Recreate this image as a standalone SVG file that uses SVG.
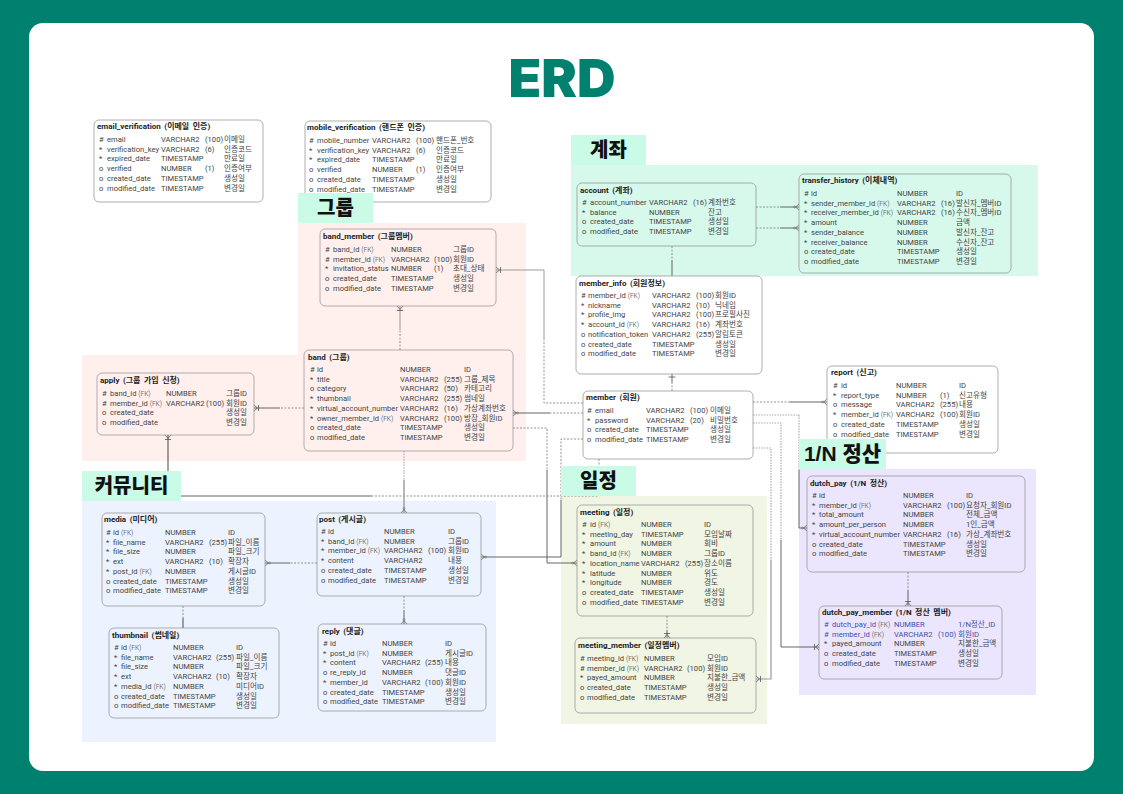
<svg xmlns="http://www.w3.org/2000/svg" width="1123" height="794" viewBox="0 0 1123 794">
<style>
text{font-family:Roboto,"Liberation Sans","Noto Sans CJK KR",sans-serif;font-size:7.6px;fill:#444}
.t{font-size:8px;font-weight:700;fill:#1c1c1c;word-spacing:1.500px}
.f{font-size:6.6px;fill:#777}
.b{fill:#3d4fb0}
.n{fill:none;stroke:#999;stroke-width:.8}
.w{fill:#fff;stroke:#999;stroke-width:.8}
.h{font-family:"Liberation Sans","Noto Sans CJK KR",sans-serif;font-size:20px;font-weight:900;fill:#111;text-anchor:middle}
.l{fill:#c9fbe7}
.s,.d,.g,.gd{fill:none}
.s{stroke:#555;stroke-width:.9}
.d{stroke:#777;stroke-width:.8;stroke-dasharray:2 1.5}
.g{stroke:#9a9a9a;stroke-width:1.4}
.gd{stroke:#aaa;stroke-width:1.2;stroke-dasharray:1.5 1.2}
</style>
<defs>
<marker id="foot" markerUnits="userSpaceOnUse" markerWidth="9" markerHeight="9" viewBox="0 0 9 9" refX="8" refY="4.5" orient="auto"><path d="M4.500 4.500L8 1.500M4.500 4.500L8 7.500" fill="none" stroke="#666" stroke-width=".8"/><circle cx="3.500" cy="4.500" r="1" fill="none" stroke="#666" stroke-width=".5"/></marker>
<marker id="many" markerUnits="userSpaceOnUse" markerWidth="9" markerHeight="9" viewBox="0 0 9 9" refX="8" refY="4.500" orient="auto"><path d="M4.500 4.500L8 1.500M4.500 4.500L8 7.500M3.500 1.500V7.500" fill="none" stroke="#555" stroke-width=".8"/></marker>
<marker id="one" markerUnits="userSpaceOnUse" markerWidth="9" markerHeight="9" viewBox="0 0 9 9" refX="8" refY="4.500" orient="auto"><path d="M5 1V8" fill="none" stroke="#555" stroke-width=".8"/></marker>
</defs>
<rect width="1123" height="794" fill="#00806f"/>
<rect x="29" y="23" width="1065" height="748" rx="14" fill="#fff"/>
<text x="562" y="97" textLength="107" lengthAdjust="spacingAndGlyphs" text-anchor="middle" style="font-family:Inter,'Liberation Sans',sans-serif;font-size:52px;font-weight:900;fill:#00806f">ERD</text>

<g id="regions">
<path d="M298 223H526V461H82V355H298Z" fill="#fff0ee"/>
<rect x="82" y="501" width="414" height="241" fill="#edf3fe"/>
<rect x="571" y="165" width="467" height="111" fill="#d7f9ec"/>
<rect x="561" y="496" width="206" height="228" fill="#f0f5e4"/>
<rect x="799" y="469" width="237" height="226" fill="#ebe6fd"/>
</g>

<g id="connectors">
<path class="d" d="M756 207H780"/><path class="s" d="M780 207H799" marker-end="url(#foot)"/>
<path class="d" d="M756 228H780"/><path class="s" d="M780 228H799" marker-end="url(#foot)"/>
<path class="d" d="M672 246V260"/><path class="s" d="M672 260V276"/>
<path class="s" d="M672 382V374" marker-end="url(#one)"/><path class="d" d="M672 382V391"/>
<path class="d" d="M583 403H544V340"/><path class="g" d="M544 340V270H496" marker-end="url(#many)" style="stroke-width:1"/>
<path class="d" d="M583 413H550"/><path class="s" d="M550 413H513" marker-end="url(#foot)"/>
<path class="d" d="M513 428H547V470"/><path class="s" d="M547 470V563H577" marker-end="url(#foot)"/>
<path class="d" d="M583 439H561V500"/><path class="s" d="M561 500V557H481" marker-end="url(#foot)"/>
<path class="d" d="M599 459V496H372"/><path class="g" d="M372 496H168"/><path class="s" d="M168 471V435" marker-end="url(#many)" style="stroke-width:1.100"/><path class="s" d="M168 496V471"/>
<path class="gd" d="M404 451V480"/><path class="g" d="M404 480V513" marker-end="url(#foot)"/>
<path class="d" d="M400 350V330"/><path class="g" d="M400 330V306" marker-end="url(#many)" style="stroke-width:1"/>
<path class="d" d="M304 408H280"/><path class="s" d="M280 408H254" marker-end="url(#many)"/>
<path class="d" d="M317 563H290"/><path class="s" d="M290 563H265" marker-end="url(#foot)"/>
<path class="d" d="M183 606V618"/><path class="s" d="M183 618V628" style="stroke-width:1.100"/>
<path class="d" d="M404 596V610"/><path class="s" d="M404 610V624" marker-end="url(#foot)"/>
<path class="d" d="M667 616V630"/><path class="s" d="M667 630V638" marker-end="url(#many)"/>
<path class="d" d="M753 402H790"/><path class="s" d="M790 402H827" marker-end="url(#foot)"/>
<path class="gd" d="M753 415H799V470"/><path class="s" d="M799 470V528H807" marker-end="url(#foot)"/>
<path class="gd" d="M753 423H781V540"/><path class="s" d="M781 540V647H819" marker-end="url(#many)"/>
<path class="gd" d="M753 448H771V560"/><path class="g" d="M771 560V679H756" marker-end="url(#many)" style="stroke-width:1.200"/>
<path class="d" d="M908 572V590"/><path class="s" d="M908 590V606" marker-end="url(#many)"/>
</g>

<g id="email_verification"><rect class="w" x="94" y="120" width="169" height="82" rx="5"/>
<text class="t" x="97" y="129">email_verification (이메일 인증)</text>
<text y="142"><tspan x="99">#</tspan><tspan x="107">email</tspan><tspan x="161">VARCHAR2</tspan><tspan x="205">(100)</tspan><tspan x="224">이메일</tspan></text>
<text y="151.700"><tspan x="99">*</tspan><tspan x="107">verification_key</tspan><tspan x="161">VARCHAR2</tspan><tspan x="205">(6)</tspan><tspan x="224">인증코드</tspan></text>
<text y="161.400"><tspan x="99">*</tspan><tspan x="107">expired_date</tspan><tspan x="161">TIMESTAMP</tspan><tspan x="224">만료일</tspan></text>
<text y="171.100"><tspan x="99">o</tspan><tspan x="107">verified</tspan><tspan x="161">NUMBER</tspan><tspan x="205">(1)</tspan><tspan x="224">인증여부</tspan></text>
<text y="180.800"><tspan x="99">o</tspan><tspan x="107">created_date</tspan><tspan x="161">TIMESTAMP</tspan><tspan x="224">생성일</tspan></text>
<text y="190.500"><tspan x="99">o</tspan><tspan x="107">modified_date</tspan><tspan x="161">TIMESTAMP</tspan><tspan x="224">변경일</tspan></text></g>

<g id="mobile_verification"><rect class="w" x="305" y="121" width="186" height="81" rx="5"/>
<text class="t" x="307" y="130">mobile_verification (핸드폰 인증)</text>
<text y="143"><tspan x="309">#</tspan><tspan x="317">mobile_number</tspan><tspan x="372">VARCHAR2</tspan><tspan x="416">(100)</tspan><tspan x="436">핸드폰_번호</tspan></text>
<text y="152.700"><tspan x="309">*</tspan><tspan x="317">verification_key</tspan><tspan x="372">VARCHAR2</tspan><tspan x="416">(6)</tspan><tspan x="436">인증코드</tspan></text>
<text y="162.400"><tspan x="309">*</tspan><tspan x="317">expired_date</tspan><tspan x="372">TIMESTAMP</tspan><tspan x="436">만료일</tspan></text>
<text y="172.100"><tspan x="309">o</tspan><tspan x="317">verified</tspan><tspan x="372">NUMBER</tspan><tspan x="416">(1)</tspan><tspan x="436">인증여부</tspan></text>
<text y="181.800"><tspan x="309">o</tspan><tspan x="317">created_date</tspan><tspan x="372">TIMESTAMP</tspan><tspan x="436">생성일</tspan></text>
<text y="191.500"><tspan x="309">o</tspan><tspan x="317">modified_date</tspan><tspan x="372">TIMESTAMP</tspan><tspan x="436">변경일</tspan></text></g>

<g id="band_member"><rect class="n" x="320" y="229" width="176" height="77" rx="5"/>
<text class="t" x="323" y="239">band_member (그룹멤버)</text>
<text y="252"><tspan x="325">#</tspan><tspan x="333">band_id <tspan class="f">(FK)</tspan></tspan><tspan x="391">NUMBER</tspan><tspan x="453">그룹ID</tspan></text>
<text y="261.700"><tspan x="325">#</tspan><tspan x="333">member_id <tspan class="f">(FK)</tspan></tspan><tspan x="391">VARCHAR2</tspan><tspan x="434">(100)</tspan><tspan x="453">회원ID</tspan></text>
<text y="271.400"><tspan x="325">*</tspan><tspan x="333">invitation_status</tspan><tspan x="391">NUMBER</tspan><tspan x="434">(1)</tspan><tspan x="453">초대_상태</tspan></text>
<text y="281.100"><tspan x="325">o</tspan><tspan x="333">created_date</tspan><tspan x="391">TIMESTAMP</tspan><tspan x="453">생성일</tspan></text>
<text y="290.800"><tspan x="325">o</tspan><tspan x="333">modified_date</tspan><tspan x="391">TIMESTAMP</tspan><tspan x="453">변경일</tspan></text></g>

<g id="band"><rect class="n" x="304" y="350" width="209" height="101" rx="5"/>
<text class="t" x="308" y="360">band (그룹)</text>
<text y="372"><tspan x="310">#</tspan><tspan x="317">id</tspan><tspan x="400">NUMBER</tspan><tspan x="464">ID</tspan></text>
<text y="381.700"><tspan x="310">*</tspan><tspan x="317">title</tspan><tspan x="400">VARCHAR2</tspan><tspan x="444">(255)</tspan><tspan x="464">그룹_제목</tspan></text>
<text y="391.400"><tspan x="310">o</tspan><tspan x="317">category</tspan><tspan x="400">VARCHAR2</tspan><tspan x="444">(50)</tspan><tspan x="464">카테고리</tspan></text>
<text y="401.100"><tspan x="310">*</tspan><tspan x="317">thumbnail</tspan><tspan x="400">VARCHAR2</tspan><tspan x="444">(255)</tspan><tspan x="464">썸네일</tspan></text>
<text y="410.800"><tspan x="310">*</tspan><tspan x="317">virtual_account_number</tspan><tspan x="400">VARCHAR2</tspan><tspan x="444">(16)</tspan><tspan x="464">가상계좌번호</tspan></text>
<text y="420.500"><tspan x="310">*</tspan><tspan x="317">owner_member_id <tspan class="f">(FK)</tspan></tspan><tspan x="400">VARCHAR2</tspan><tspan x="444">(100)</tspan><tspan x="464">방장_회원ID</tspan></text>
<text y="430.200"><tspan x="310">o</tspan><tspan x="317">created_date</tspan><tspan x="400">TIMESTAMP</tspan><tspan x="464">생성일</tspan></text>
<text y="439.900"><tspan x="310">o</tspan><tspan x="317">modified_date</tspan><tspan x="400">TIMESTAMP</tspan><tspan x="464">변경일</tspan></text></g>

<g id="apply"><rect class="n" x="97" y="373" width="157" height="62" rx="5"/>
<text class="t" x="100" y="383">apply (그룹 가입 신청)</text>
<text y="396"><tspan x="102">#</tspan><tspan x="110">band_id <tspan class="f">(FK)</tspan></tspan><tspan x="166">NUMBER</tspan><tspan x="226">그룹ID</tspan></text>
<text y="405.700"><tspan x="102">#</tspan><tspan x="110">member_id <tspan class="f">(FK)</tspan></tspan><tspan x="166">VARCHAR2</tspan><tspan x="206">(100)</tspan><tspan x="226">회원ID</tspan></text>
<text y="415.400"><tspan x="102">o</tspan><tspan x="110">created_date</tspan><tspan x="226">생성일</tspan></text>
<text y="425.100"><tspan x="102">o</tspan><tspan x="110">modified_date</tspan><tspan x="226">변경일</tspan></text></g>

<g id="account"><rect class="n" x="577" y="183" width="179" height="63" rx="5"/>
<text class="t" x="580" y="193">account (계좌)</text>
<text y="205"><tspan x="582">#</tspan><tspan x="590">account_number</tspan><tspan x="649">VARCHAR2</tspan><tspan x="693">(16)</tspan><tspan x="708">계좌번호</tspan></text>
<text y="214.700"><tspan x="582">*</tspan><tspan x="590">balance</tspan><tspan x="649">NUMBER</tspan><tspan x="708">잔고</tspan></text>
<text y="224.400"><tspan x="582">o</tspan><tspan x="590">created_date</tspan><tspan x="649">TIMESTAMP</tspan><tspan x="708">생성일</tspan></text>
<text y="234.100"><tspan x="582">o</tspan><tspan x="590">modified_date</tspan><tspan x="649">TIMESTAMP</tspan><tspan x="708">변경일</tspan></text></g>

<g id="transfer_history"><rect class="n" x="799" y="174" width="212" height="99" rx="5"/>
<text class="t" x="802" y="183">transfer_history (이체내역)</text>
<text y="196"><tspan x="804">#</tspan><tspan x="811">id</tspan><tspan x="897">NUMBER</tspan><tspan x="956">ID</tspan></text>
<text y="205.700"><tspan x="804">*</tspan><tspan x="811">sender_member_id <tspan class="f">(FK)</tspan></tspan><tspan x="897">VARCHAR2</tspan><tspan x="941">(16)</tspan><tspan x="956">발신자_멤버ID</tspan></text>
<text y="215.400"><tspan x="804">*</tspan><tspan x="811">receiver_member_id <tspan class="f">(FK)</tspan></tspan><tspan x="897">VARCHAR2</tspan><tspan x="941">(16)</tspan><tspan x="956">수신자_멤버ID</tspan></text>
<text y="225.100"><tspan x="804">*</tspan><tspan x="811">amount</tspan><tspan x="897">NUMBER</tspan><tspan x="956">금액</tspan></text>
<text y="234.800"><tspan x="804">*</tspan><tspan x="811">sender_balance</tspan><tspan x="897">NUMBER</tspan><tspan x="956">발신자_잔고</tspan></text>
<text y="244.500"><tspan x="804">*</tspan><tspan x="811">receiver_balance</tspan><tspan x="897">NUMBER</tspan><tspan x="956">수신자_잔고</tspan></text>
<text y="254.200"><tspan x="804">o</tspan><tspan x="811">created_date</tspan><tspan x="897">TIMESTAMP</tspan><tspan x="956">생성일</tspan></text>
<text y="263.900"><tspan x="804">o</tspan><tspan x="811">modified_date</tspan><tspan x="897">TIMESTAMP</tspan><tspan x="956">변경일</tspan></text></g>

<g id="member_info"><rect class="w" x="576" y="276" width="186" height="98" rx="5"/>
<text class="t" x="579" y="286">member_info (회원정보)</text>
<text y="298"><tspan x="581">#</tspan><tspan x="588">member_id <tspan class="f">(FK)</tspan></tspan><tspan x="652">VARCHAR2</tspan><tspan x="696">(100)</tspan><tspan x="715">회원ID</tspan></text>
<text y="307.700"><tspan x="581">*</tspan><tspan x="588">nickname</tspan><tspan x="652">VARCHAR2</tspan><tspan x="696">(10)</tspan><tspan x="715">닉네임</tspan></text>
<text y="317.400"><tspan x="581">*</tspan><tspan x="588">profile_img</tspan><tspan x="652">VARCHAR2</tspan><tspan x="696">(100)</tspan><tspan x="715">프로필사진</tspan></text>
<text y="327.100"><tspan x="581">*</tspan><tspan x="588">account_id <tspan class="f">(FK)</tspan></tspan><tspan x="652">VARCHAR2</tspan><tspan x="696">(16)</tspan><tspan x="715">계좌번호</tspan></text>
<text y="336.800"><tspan x="581">o</tspan><tspan x="588">notification_token</tspan><tspan x="652">VARCHAR2</tspan><tspan x="696">(255)</tspan><tspan x="715">알림토큰</tspan></text>
<text y="346.500"><tspan x="581">o</tspan><tspan x="588">created_date</tspan><tspan x="652">TIMESTAMP</tspan><tspan x="715">생성일</tspan></text>
<text y="356.200"><tspan x="581">o</tspan><tspan x="588">modified_date</tspan><tspan x="652">TIMESTAMP</tspan><tspan x="715">변경일</tspan></text></g>

<g id="report"><rect class="w" x="827" y="366" width="171" height="87" rx="5"/>
<text class="t" x="831" y="375">report (신고)</text>
<text y="388"><tspan x="833">#</tspan><tspan x="841">id</tspan><tspan x="896">NUMBER</tspan><tspan x="959">ID</tspan></text>
<text y="397.700"><tspan x="833">*</tspan><tspan x="841">report_type</tspan><tspan x="896">NUMBER</tspan><tspan x="940">(1)</tspan><tspan x="959">신고유형</tspan></text>
<text y="407.400"><tspan x="833">o</tspan><tspan x="841">message</tspan><tspan x="896">VARCHAR2</tspan><tspan x="940">(255)</tspan><tspan x="959">내용</tspan></text>
<text y="417.100"><tspan x="833">*</tspan><tspan x="841">member_id <tspan class="f">(FK)</tspan></tspan><tspan x="896">VARCHAR2</tspan><tspan x="940">(100)</tspan><tspan x="959">회원ID</tspan></text>
<text y="426.800"><tspan x="833">o</tspan><tspan x="841">created_date</tspan><tspan x="896">TIMESTAMP</tspan><tspan x="959">생성일</tspan></text>
<text y="436.500"><tspan x="833">o</tspan><tspan x="841">modified_date</tspan><tspan x="896">TIMESTAMP</tspan><tspan x="959">변경일</tspan></text></g>

<g id="member"><rect class="w" x="583" y="391" width="170" height="68" rx="5"/>
<text class="t" x="586" y="400">member (회원)</text>
<text y="413"><tspan x="587">#</tspan><tspan x="595">email</tspan><tspan x="646">VARCHAR2</tspan><tspan x="690">(100)</tspan><tspan x="710">이메일</tspan></text>
<text y="422.700"><tspan x="587">*</tspan><tspan x="595">password</tspan><tspan x="646">VARCHAR2</tspan><tspan x="690">(20)</tspan><tspan x="710">비밀번호</tspan></text>
<text y="432.400"><tspan x="587">o</tspan><tspan x="595">created_date</tspan><tspan x="646">TIMESTAMP</tspan><tspan x="710">생성일</tspan></text>
<text y="442.100"><tspan x="587">o</tspan><tspan x="595">modified_date</tspan><tspan x="646">TIMESTAMP</tspan><tspan x="710">변경일</tspan></text></g>

<g id="meeting"><rect class="n" x="577" y="505" width="176" height="111" rx="5"/>
<text class="t" x="580" y="515">meeting (일정)</text>
<text y="527"><tspan x="582">#</tspan><tspan x="590">id <tspan class="f">(FK)</tspan></tspan><tspan x="641">NUMBER</tspan><tspan x="704">ID</tspan></text>
<text y="536.700"><tspan x="582">*</tspan><tspan x="590">meeting_day</tspan><tspan x="641">TIMESTAMP</tspan><tspan x="704">모임날짜</tspan></text>
<text y="546.400"><tspan x="582">*</tspan><tspan x="590">amount</tspan><tspan x="641">NUMBER</tspan><tspan x="704">회비</tspan></text>
<text y="556.100"><tspan x="582">*</tspan><tspan x="590">band_id <tspan class="f">(FK)</tspan></tspan><tspan x="641">NUMBER</tspan><tspan x="704">그룹ID</tspan></text>
<text y="565.800"><tspan x="582">*</tspan><tspan x="590">location_name</tspan><tspan x="641">VARCHAR2</tspan><tspan x="685">(255)</tspan><tspan x="704">장소이름</tspan></text>
<text y="575.500"><tspan x="582">*</tspan><tspan x="590">latitude</tspan><tspan x="641">NUMBER</tspan><tspan x="704">위도</tspan></text>
<text y="585.200"><tspan x="582">*</tspan><tspan x="590">longitude</tspan><tspan x="641">NUMBER</tspan><tspan x="704">경도</tspan></text>
<text y="594.900"><tspan x="582">o</tspan><tspan x="590">created_date</tspan><tspan x="641">TIMESTAMP</tspan><tspan x="704">생성일</tspan></text>
<text y="604.600"><tspan x="582">o</tspan><tspan x="590">modified_date</tspan><tspan x="641">TIMESTAMP</tspan><tspan x="704">변경일</tspan></text></g>

<g id="meeting_member"><rect class="n" x="575" y="638" width="181" height="75" rx="5"/>
<text class="t" x="578" y="648">meeting_member (일정멤버)</text>
<text y="661"><tspan x="580">#</tspan><tspan x="587">meeting_id <tspan class="f">(FK)</tspan></tspan><tspan x="644">NUMBER</tspan><tspan x="707">모임ID</tspan></text>
<text y="670.700"><tspan x="580">#</tspan><tspan x="587">member_id <tspan class="f">(FK)</tspan></tspan><tspan x="644">VARCHAR2</tspan><tspan x="687">(100)</tspan><tspan x="707">회원ID</tspan></text>
<text y="680.400"><tspan x="580">*</tspan><tspan x="587">payed_amount</tspan><tspan x="644">NUMBER</tspan><tspan x="707">지불한_금액</tspan></text>
<text y="690.100"><tspan x="580">o</tspan><tspan x="587">created_date</tspan><tspan x="644">TIMESTAMP</tspan><tspan x="707">생성일</tspan></text>
<text y="699.800"><tspan x="580">o</tspan><tspan x="587">modified_date</tspan><tspan x="644">TIMESTAMP</tspan><tspan x="707">변경일</tspan></text></g>

<g id="dutch_pay"><rect class="n" x="807" y="476" width="218" height="96" rx="5"/>
<text class="t" x="810" y="486">dutch_pay (1/N 정산)</text>
<text y="498"><tspan x="812">#</tspan><tspan x="819">id</tspan><tspan x="903">NUMBER</tspan><tspan x="966">ID</tspan></text>
<text y="507.700"><tspan x="812">*</tspan><tspan x="819">member_id <tspan class="f">(FK)</tspan></tspan><tspan x="903">VARCHAR2</tspan><tspan x="947">(100)</tspan><tspan x="966">요청자_회원ID</tspan></text>
<text y="517.400"><tspan x="812">*</tspan><tspan x="819">total_amount</tspan><tspan x="903">NUMBER</tspan><tspan x="966">전체_금액</tspan></text>
<text y="527.100"><tspan x="812">*</tspan><tspan x="819">amount_per_person</tspan><tspan x="903">NUMBER</tspan><tspan x="966">1인_금액</tspan></text>
<text y="536.800"><tspan x="812">*</tspan><tspan x="819">virtual_account_number</tspan><tspan x="903">VARCHAR2</tspan><tspan x="947">(16)</tspan><tspan x="966">가상_계좌번호</tspan></text>
<text y="546.500"><tspan x="812">o</tspan><tspan x="819">created_date</tspan><tspan x="903">TIMESTAMP</tspan><tspan x="966">생성일</tspan></text>
<text y="556.200"><tspan x="812">o</tspan><tspan x="819">modified_date</tspan><tspan x="903">TIMESTAMP</tspan><tspan x="966">변경일</tspan></text></g>

<g id="dutch_pay_member"><rect class="n" x="819" y="606" width="183" height="73" rx="5"/>
<text class="t" x="822" y="615">dutch_pay_member (1/N 정산 멤버)</text>
<text y="627" class="b"><tspan x="824" class="b">#</tspan><tspan x="832" class="b">dutch_pay_id <tspan class="f">(FK)</tspan></tspan><tspan x="894" class="b">NUMBER</tspan><tspan x="958" class="b">1/N정산_ID</tspan></text>
<text y="636.700" class="b"><tspan x="824" class="b">#</tspan><tspan x="832" class="b">member_id <tspan class="f">(FK)</tspan></tspan><tspan x="894" class="b">VARCHAR2</tspan><tspan x="938" class="b">(100)</tspan><tspan x="958" class="b">회원ID</tspan></text>
<text y="646.400"><tspan x="824">*</tspan><tspan x="832">payed_amount</tspan><tspan x="894">NUMBER</tspan><tspan x="958">지불한_금액</tspan></text>
<text y="656.100"><tspan x="824">o</tspan><tspan x="832">created_date</tspan><tspan x="894">TIMESTAMP</tspan><tspan x="958">생성일</tspan></text>
<text y="665.800"><tspan x="824">o</tspan><tspan x="832">modified_date</tspan><tspan x="894">TIMESTAMP</tspan><tspan x="958">변경일</tspan></text></g>

<g id="media"><rect class="n" x="102" y="513" width="163" height="93" rx="5"/>
<text class="t" x="104" y="522">media (미디어)</text>
<text y="535"><tspan x="106">#</tspan><tspan x="113">id <tspan class="f">(FK)</tspan></tspan><tspan x="165">NUMBER</tspan><tspan x="228">ID</tspan></text>
<text y="544.700"><tspan x="106">*</tspan><tspan x="113">file_name</tspan><tspan x="165">VARCHAR2</tspan><tspan x="209">(255)</tspan><tspan x="228">파일_이름</tspan></text>
<text y="554.400"><tspan x="106">*</tspan><tspan x="113">file_size</tspan><tspan x="165">NUMBER</tspan><tspan x="228">파일_크기</tspan></text>
<text y="564.100"><tspan x="106">*</tspan><tspan x="113">ext</tspan><tspan x="165">VARCHAR2</tspan><tspan x="209">(10)</tspan><tspan x="228">확장자</tspan></text>
<text y="573.800"><tspan x="106">*</tspan><tspan x="113">post_id <tspan class="f">(FK)</tspan></tspan><tspan x="165">NUMBER</tspan><tspan x="228">게시글ID</tspan></text>
<text y="583.500"><tspan x="106">o</tspan><tspan x="113">created_date</tspan><tspan x="165">TIMESTAMP</tspan><tspan x="228">생성일</tspan></text>
<text y="593.200"><tspan x="106">o</tspan><tspan x="113">modified_date</tspan><tspan x="165">TIMESTAMP</tspan><tspan x="228">변경일</tspan></text></g>

<g id="post"><rect class="n" x="317" y="513" width="164" height="83" rx="5"/>
<text class="t" x="319" y="522">post (게시글)</text>
<text y="534"><tspan x="321">#</tspan><tspan x="328">id</tspan><tspan x="384">NUMBER</tspan><tspan x="448">ID</tspan></text>
<text y="543.700"><tspan x="321">*</tspan><tspan x="328">band_id <tspan class="f">(FK)</tspan></tspan><tspan x="384">NUMBER</tspan><tspan x="448">그룹ID</tspan></text>
<text y="553.400"><tspan x="321">*</tspan><tspan x="328">member_id <tspan class="f">(FK)</tspan></tspan><tspan x="384">VARCHAR2</tspan><tspan x="428">(100)</tspan><tspan x="448">회원ID</tspan></text>
<text y="563.100"><tspan x="321">*</tspan><tspan x="328">content</tspan><tspan x="384">VARCHAR2</tspan><tspan x="448">내용</tspan></text>
<text y="572.800"><tspan x="321">o</tspan><tspan x="328">created_date</tspan><tspan x="384">TIMESTAMP</tspan><tspan x="448">생성일</tspan></text>
<text y="582.500"><tspan x="321">o</tspan><tspan x="328">modified_date</tspan><tspan x="384">TIMESTAMP</tspan><tspan x="448">변경일</tspan></text></g>

<g id="thumbnail"><rect class="n" x="109" y="628" width="170" height="90" rx="5"/>
<text class="t" x="112" y="638">thumbnail (썸네일)</text>
<text y="650"><tspan x="114">#</tspan><tspan x="121">id <tspan class="f">(FK)</tspan></tspan><tspan x="173">NUMBER</tspan><tspan x="236">ID</tspan></text>
<text y="659.700"><tspan x="114">*</tspan><tspan x="121">file_name</tspan><tspan x="173">VARCHAR2</tspan><tspan x="216">(255)</tspan><tspan x="236">파일_이름</tspan></text>
<text y="669.400"><tspan x="114">*</tspan><tspan x="121">file_size</tspan><tspan x="173">NUMBER</tspan><tspan x="236">파일_크기</tspan></text>
<text y="679.100"><tspan x="114">*</tspan><tspan x="121">ext</tspan><tspan x="173">VARCHAR2</tspan><tspan x="216">(10)</tspan><tspan x="236">확장자</tspan></text>
<text y="688.800"><tspan x="114">*</tspan><tspan x="121">media_id <tspan class="f">(FK)</tspan></tspan><tspan x="173">NUMBER</tspan><tspan x="236">미디어ID</tspan></text>
<text y="698.500"><tspan x="114">o</tspan><tspan x="121">created_date</tspan><tspan x="173">TIMESTAMP</tspan><tspan x="236">생성일</tspan></text>
<text y="708.200"><tspan x="114">o</tspan><tspan x="121">modified_date</tspan><tspan x="173">TIMESTAMP</tspan><tspan x="236">변경일</tspan></text></g>

<g id="reply"><rect class="n" x="318" y="624" width="168" height="87" rx="5"/>
<text class="t" x="322" y="634">reply (댓글)</text>
<text y="646"><tspan x="323">#</tspan><tspan x="330">id</tspan><tspan x="382">NUMBER</tspan><tspan x="445">ID</tspan></text>
<text y="655.700"><tspan x="323">*</tspan><tspan x="330">post_id <tspan class="f">(FK)</tspan></tspan><tspan x="382">NUMBER</tspan><tspan x="445">게시글ID</tspan></text>
<text y="665.400"><tspan x="323">*</tspan><tspan x="330">content</tspan><tspan x="382">VARCHAR2</tspan><tspan x="425">(255)</tspan><tspan x="445">내용</tspan></text>
<text y="675.100"><tspan x="323">o</tspan><tspan x="330">re_reply_id</tspan><tspan x="382">NUMBER</tspan><tspan x="445">댓글ID</tspan></text>
<text y="684.800"><tspan x="323">*</tspan><tspan x="330">member_id</tspan><tspan x="382">VARCHAR2</tspan><tspan x="425">(100)</tspan><tspan x="445">회원ID</tspan></text>
<text y="694.500"><tspan x="323">o</tspan><tspan x="330">created_date</tspan><tspan x="382">TIMESTAMP</tspan><tspan x="445">생성일</tspan></text>
<text y="704.200"><tspan x="323">o</tspan><tspan x="330">modified_date</tspan><tspan x="382">TIMESTAMP</tspan><tspan x="445">변경일</tspan></text></g>

<g id="section-labels">
<rect class="l" x="298" y="193" width="75" height="30"/><text class="h" x="335.500" y="215">그룹</text>
<rect class="l" x="571" y="135" width="75" height="30"/><text class="h" x="608.500" y="157">계좌</text>
<rect class="l" x="82" y="471" width="99" height="30"/><text class="h" x="131.500" y="493">커뮤니티</text>
<rect class="l" x="561" y="466" width="75" height="30"/><text class="h" x="598.500" y="488">일정</text>
<rect class="l" x="799" y="439" width="87" height="30"/><text class="h" x="842.500" y="461" style="font-size:21px">1/N 정산</text>
</g>
</svg>
